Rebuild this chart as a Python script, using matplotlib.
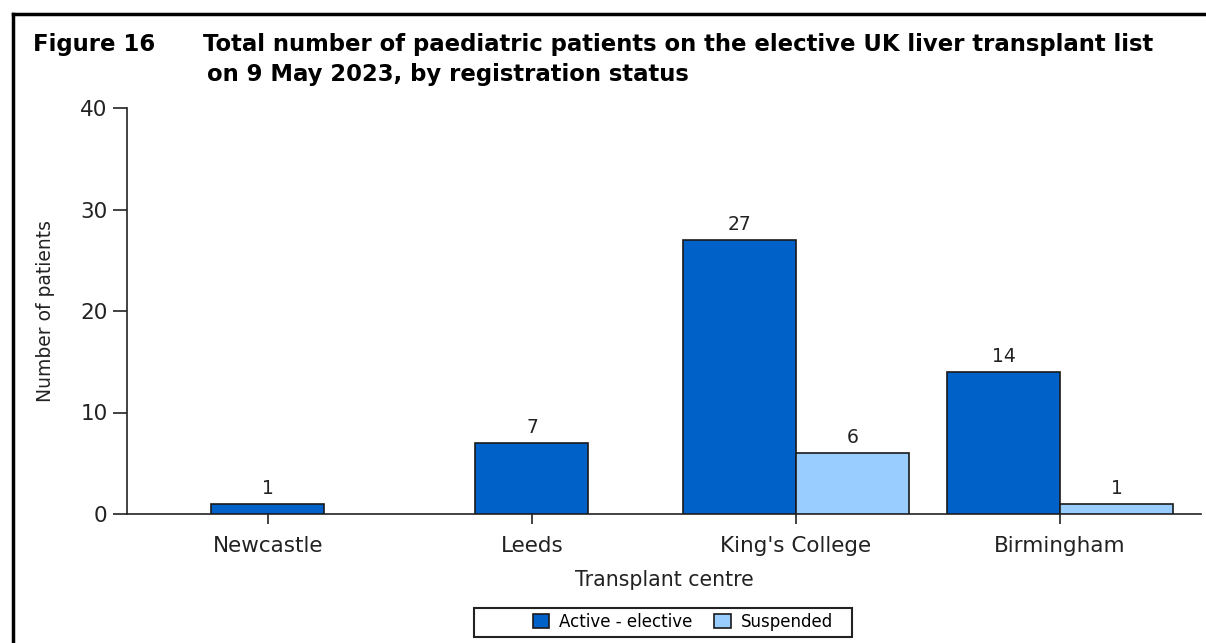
import matplotlib
matplotlib.use("Agg")
import matplotlib.pyplot as plt
from matplotlib.lines import Line2D
from matplotlib.patches import Patch, Rectangle
import numpy as np

centres = ["Newcastle", "Leeds", "King's College", "Birmingham"]
active = [1, 7, 27, 14]
suspended = [0, 0, 6, 1]
series_names = ["Active - elective", "Suspended"]
yticks = [0, 10, 20, 30, 40]

c_active = "#0061C9"
c_susp = "#99CCFF"
txt = "#222222"

W, H = 1206, 643
fig = plt.figure(figsize=(W / 100, H / 100), dpi=100)
ax = fig.add_axes([127 / W, 1 - 514 / H, (1201 - 127) / W, (514 - 108) / H])

width = 0.428
x = np.arange(len(centres))
for i in range(len(centres)):
    vals = [active[i], suspended[i]]
    cols = [c_active, c_susp]
    present = [k for k in range(2) if vals[k] > 0]
    n = len(present)
    for j, k in enumerate(present):
        pos = x[i] + (j - (n - 1) / 2) * width
        ax.bar(pos, vals[k], width=width, color=cols[k], edgecolor="#1a1a1a",
               linewidth=1.2, zorder=3)
        ax.text(pos, vals[k] + 0.6, str(vals[k]), ha="center", va="bottom",
                fontsize=13.5, color=txt, family="DejaVu Sans")

ax.set_xlim(-0.534, 3.534)
ax.set_ylim(0, 40)
ax.set_yticks(yticks)
ax.set_xticks(x)
ax.set_xticklabels(centres, family="DejaVu Sans", fontsize=15.5, color=txt)
ax.set_yticklabels([str(v) for v in yticks], family="DejaVu Sans", fontsize=15.5, color=txt)
ax.tick_params(axis="y", direction="out", length=10, width=1.2, pad=4, colors=txt)
ax.tick_params(axis="x", direction="out", length=7, width=1.2, pad=9, colors=txt)
for s in ["top", "right"]:
    ax.spines[s].set_visible(False)
for s in ["left", "bottom"]:
    ax.spines[s].set_linewidth(1.2)
    ax.spines[s].set_color(txt)

ax.set_xlabel("Transplant centre", family="DejaVu Sans", fontsize=14.8, color=txt, labelpad=10)
ax.set_ylabel("Number of patients", family="DejaVu Sans", fontsize=13.5, color=txt, labelpad=18)

fig.text(33 / W, 1 - 45 / H, "Figure 16", fontsize=16.4, fontweight="bold",
         family="DejaVu Sans", va="center", ha="left")
fig.text(203 / W, 1 - 45 / H, "Total number of paediatric patients on the elective UK liver transplant list",
         fontsize=16.4, fontweight="bold", family="DejaVu Sans", va="center", ha="left")
fig.text(207 / W, 1 - 74 / H, "on 9 May 2023, by registration status",
         fontsize=16.4, fontweight="bold", family="DejaVu Sans", va="center", ha="left")

handles = [Patch(facecolor=c_active, edgecolor="#1a1a1a", linewidth=1.2),
           Patch(facecolor=c_susp, edgecolor="#1a1a1a", linewidth=1.2)]
leg = fig.legend(handles, series_names, loc="center", bbox_to_anchor=(683 / W, 1 - 622 / H),
                 ncol=2, frameon=False,
                 prop={"family": "DejaVu Sans", "size": 12}, handlelength=1.0,
                 handleheight=0.9, handletextpad=0.6, columnspacing=1.3,
                 borderpad=0.2)
fig.add_artist(Rectangle((474 / W, 1 - 637 / H), (852 - 474) / W, (637 - 608) / H,
                         transform=fig.transFigure, facecolor="none",
                         edgecolor=txt, linewidth=1.5))

fig.add_artist(Line2D([13 / W, 13 / W], [0, 1 - 14 / H], transform=fig.transFigure,
                      color="black", linewidth=2.5))
fig.add_artist(Line2D([13 / W, 1], [1 - 14 / H, 1 - 14 / H], transform=fig.transFigure,
                      color="black", linewidth=2.5))

fig.savefig("out.png", dpi=100)
